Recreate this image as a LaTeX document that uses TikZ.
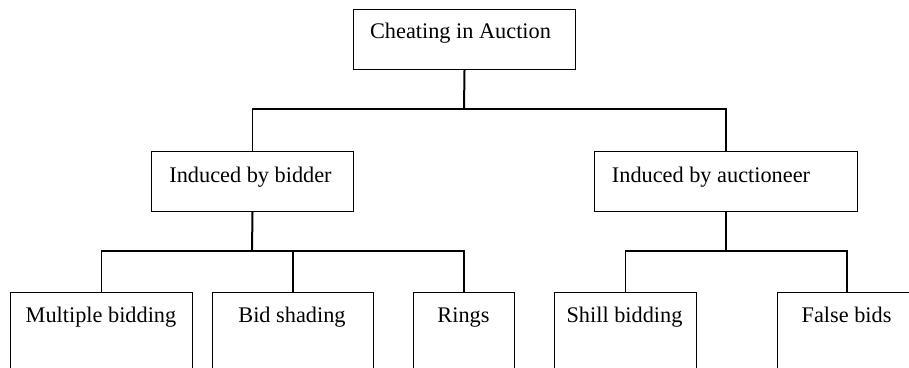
\documentclass[tikz,border=0pt]{standalone}
\usepackage{fontspec}
\setmainfont{Liberation Serif}
\begin{document}
\begin{tikzpicture}[x=1pt,y=-1pt,
  box/.style={draw=black,line width=1pt,rectangle,inner sep=0pt,anchor=north west},
  lbl/.style={anchor=base,inner sep=0pt,font=\fontsize{22.3}{26}\selectfont},
  conn/.style={line width=1.3pt},
  stem/.style={line width=2pt}]
\useasboundingbox (0,0) rectangle (909,367);
% boxes
\node[box,minimum width=222pt,minimum height=60pt] (top) at (353,9) {};
\node[box,minimum width=202pt,minimum height=60pt] (bid) at (151,151) {};
\node[box,minimum width=263pt,minimum height=60pt] (auc) at (594,151) {};
\node[box,minimum width=182pt,minimum height=110pt] (b1) at (10,292) {};
\node[box,minimum width=161pt,minimum height=110pt] (b2) at (212,292) {};
\node[box,minimum width=101pt,minimum height=110pt] (b3) at (413,292) {};
\node[box,minimum width=142pt,minimum height=110pt] (b4) at (554,292) {};
\node[box,minimum width=140pt,minimum height=110pt] (b5) at (777,292) {};
% labels
\node[lbl] (ttop) at (460.5,38) {Cheating in Auction};
\node[lbl] (tbid) at (250.5,182) {Induced by bidder};
\node[lbl] (tauc) at (711,182) {Induced by auctioneer};
\node[lbl] (t1) at (101,322) {Multiple bidding};
\node[lbl] (t2) at (292,322) {Bid shading};
\node[lbl] (t3) at (463.5,322) {Rings};
\node[lbl] (t4) at (624.5,322) {Shill bidding};
\node[lbl] (t5) at (846.5,322) {False bids};
% junction points
\coordinate (j0) at (464,109);
\coordinate (j1) at (252,251);
\coordinate (j2) at (726,251);
% connectors
\draw[stem] (top.south) -- (j0);
\draw[conn] (bid.north) |- (j0) -| (auc.north);
\draw[stem] (bid.south) -- (j1);
\draw[conn] (b1.north) |- (j1) -| (b3.north);
\draw[conn] (j1 -| b2.north) -- (b2.north);
\draw[stem] (auc.south -| j2) -- (j2);
\draw[conn] (b4.north) |- (j2) -- (j2 -| 847,0) -- (847,292);
\end{tikzpicture}
\end{document}
